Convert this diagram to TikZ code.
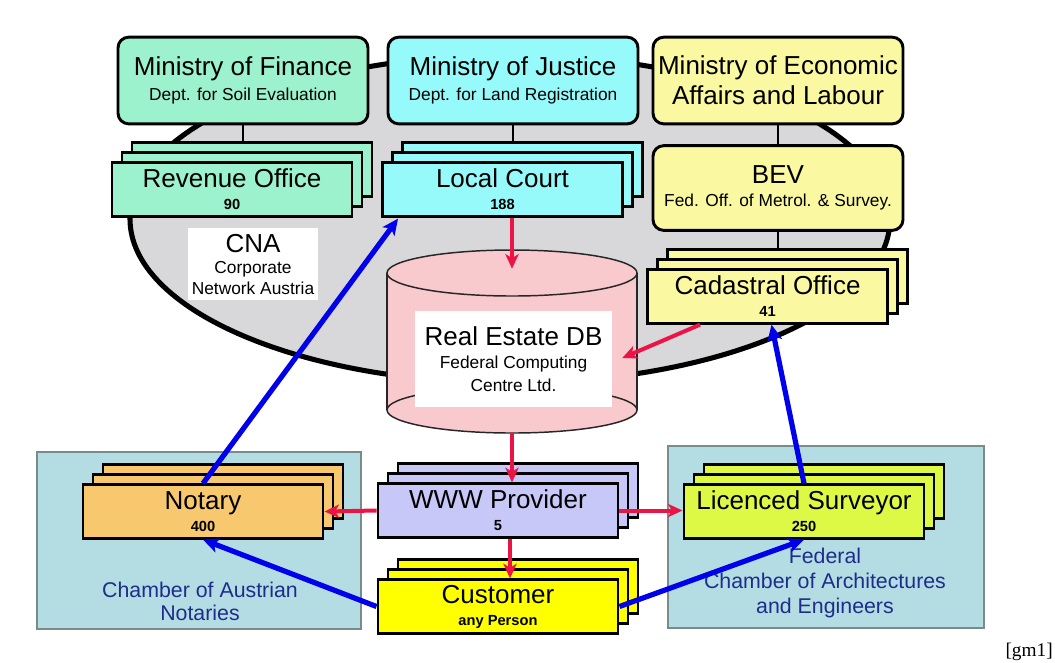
\documentclass[tikz,border=0pt]{standalone}
\usepackage{fontspec}
\setmainfont{Liberation Sans}
\newfontfamily\serifgm{Liberation Serif}
\usetikzlibrary{arrows.meta,calc}
\pgfdeclarelayer{bg}
\pgfdeclarelayer{lines}
\pgfsetlayers{bg,lines,main}
\definecolor{ellgray}{RGB}{216,216,218}
\definecolor{mint}{RGB}{155,242,205}
\definecolor{cyanbox}{RGB}{150,250,250}
\definecolor{paleyel}{RGB}{250,248,160}
\definecolor{orangebox}{RGB}{247,200,110}
\definecolor{lavender}{RGB}{200,200,248}
\definecolor{custyel}{RGB}{255,255,0}
\definecolor{limebox}{RGB}{222,248,70}
\definecolor{dbpink}{RGB}{248,202,206}
\definecolor{chamberfill}{RGB}{180,221,227}
\definecolor{chamberline}{RGB}{120,140,140}
\definecolor{chambertext}{RGB}{30,45,140}
\definecolor{arrred}{RGB}{236,20,70}
\definecolor{arrblue}{RGB}{0,0,235}
\tikzset{
  ministry/.style={draw=black, line width=2.2pt, rounded corners=8pt,
    minimum width=187.5pt, minimum height=65pt, align=center, inner sep=1pt,
    font=\fontsize{19.5}{18.75}\selectfont},
  backbox/.style={fill=#1, draw=black, line width=2.2pt, minimum width=180pt,
    minimum height=40pt, inner sep=0pt},
  stackbox/.style={backbox=#1, align=center, inner sep=1pt,
    font=\fontsize{19.5}{16.5}\selectfont},
  whitebox/.style={fill=white, draw=none, align=center, inner sep=0pt},
  chambertxt/.style={text=chambertext, align=center, inner sep=0pt,
    font=\fontsize{16}{18.75}\selectfont},
  conn/.style={draw=black, line width=2.2pt},
  redarrow/.style={draw=arrred, line width=3pt,
    -{Stealth[length=11pt,width=10pt,inset=3pt]}},
  bluearrow/.style={draw=arrblue, line width=3.9pt,
    -{Stealth[length=12pt,width=11pt,inset=3pt]}},
  dbline/.style={draw=black!85, line width=1.1pt}
}
\newcommand\numtxt{\fontsize{11}{16.5}\selectfont\bfseries}
\newcommand\subtxt{\fontsize{13}{18.75}\selectfont}
\newcommand\sizedtxt[2]{\fontsize{#1}{#2}\selectfont}
% stacked office: name, colour, x, y, text
\newcommand\stackednode[5]{%
  \node[backbox=#2] (#1-back2) at ({#3+20},{#4-20}) {};
  \node[backbox=#2] (#1-back1) at ({#3+10},{#4-10}) {};
  \node[stackbox=#2] (#1) at (#3,#4) {#5};}
\begin{document}
\begin{tikzpicture}[x=0.75pt,y=-0.75pt]
\useasboundingbox (0,0) rectangle (1055,662);

% ---- background: network ellipse and chambers
\begin{pgfonlayer}{bg}
\draw[fill=ellgray, line width=3.8pt] (510,219) ellipse [x radius=285pt, y radius=123pt];
\draw[fill=chamberfill, draw=chamberline, line width=0.9pt] (37,452) rectangle (361,629);
\draw[fill=chamberfill, draw=chamberline, line width=0.9pt] (668,446) rectangle (984,628);
\end{pgfonlayer}

% ---- ministries
\node[ministry, fill=mint] (mof) at (243,80.5)
  {Ministry of Finance\\ \subtxt Dept. for Soil Evaluation};
\node[ministry, fill=cyanbox] (moj) at (513,80.5)
  {Ministry of Justice\\ \subtxt Dept. for Land Registration};
\node[ministry, fill=paleyel, font=\fontsize{19.5}{22.5}\selectfont] (moe) at (778,80.5)
  {Ministry of Economic\\Affairs and Labour};
\node[ministry, fill=paleyel, minimum height=63.5pt, font=\fontsize{19.5}{17.25}\selectfont] (bev) at (778,188)
  {BEV\\ \sizedtxt{13}{17.25}Fed. Off. of Metrol. \& Survey.};

% ---- stacked offices
\stackednode{rev}{mint}{232}{189.5}{Revenue Office\\ \numtxt 90}
\stackednode{lc}{cyanbox}{502.5}{189.5}{Local Court\\ \numtxt 188}
\stackednode{cad}{paleyel}{767.5}{296.5}{Cadastral Office\\ \numtxt 41}
\stackednode{not}{orangebox}{203}{511.5}{Notary\\ \numtxt 400}
\stackednode{www}{lavender}{498}{510.5}{WWW Provider\\ \numtxt 5}
\stackednode{cust}{custyel}{498}{606.5}{Customer\\ \numtxt any Person}
\stackednode{sur}{limebox}{804}{511.5}{Licenced Surveyor\\ \numtxt 250}

% ---- CNA label
\node[whitebox, minimum width=97.5pt, minimum height=54pt,
  font=\fontsize{19.5}{15.75}\selectfont] (cna) at (253,264)
  {CNA\\ \sizedtxt{13}{15.75}Corporate\\ \sizedtxt{13}{15.75}Network Austria};

% ---- Real Estate DB cylinder
\node[draw=none, minimum width=187.5pt, minimum height=137.25pt, inner sep=0pt] (db) at (512,341.5) {};
\fill[dbpink] (387,273) -- (387,410) arc[start angle=180, end angle=360, x radius=93.75pt, y radius=17.25pt]
  -- (637,273) arc[start angle=0, end angle=180, x radius=93.75pt, y radius=17.25pt] -- cycle;
\draw[dbline] (512,410) ellipse [x radius=93.75pt, y radius=17.25pt];
\draw[dbline] (512,273) ellipse [x radius=93.75pt, y radius=17.25pt];
\draw[dbline] (387,273) -- (387,410);
\draw[dbline] (637,273) -- (637,410);
\node[whitebox, minimum width=147.75pt, minimum height=72pt,
  font=\fontsize{19.5}{17}\selectfont] (dbt) at (513.5,359)
  {Real Estate DB\\ \sizedtxt{13}{17}Federal Computing\\ \sizedtxt{13}{17}Centre Ltd.};

% ---- chamber labels
\node[chambertxt, font=\fontsize{16}{17.25}\selectfont] (notch) at (200,601) {Chamber of Austrian\\Notaries};
\node[chambertxt] (fedch) at (825,583) {Federal\\Chamber of Architectures\\and Engineers};
\node[anchor=east, inner sep=0pt, font=\serifgm\fontsize{14.5}{16}\selectfont] (gm) at (1053,652) {[gm1]};

% ---- black hierarchy lines
\begin{pgfonlayer}{lines}
\draw[conn] (mof.south) -- (mof.south |- rev-back2.north);
\draw[conn] (moj.south) -- (moj.south |- lc-back2.north);
\draw[conn] (moe.south) -- (bev.north);
\draw[conn] (bev.south) -- (bev.south |- cad-back2.north);
\end{pgfonlayer}

% ---- red data flow arrows
\draw[redarrow] (db.north |- lc.south) -- ($(db.north)+(0,19)$);
\draw[redarrow] ($(cad.south west)+(54,0)$) -- ($(db.east)+(-15,16.5)$);
\draw[redarrow] (db.south) -- (db.south |- www.north);
\draw[redarrow] (www.west) -- (not.east);
\draw[redarrow] (www.east) -- (www.east -| sur.west);
\draw[redarrow] ($(www.south)+(12,0)$) -- ($(cust.north)+(12,0)$);

% ---- blue arrows
\draw[bluearrow] (not.north) -- ($(lc.south west)+(17,1)$);
\draw[bluearrow] (cust.west) -- (not.south);
\draw[bluearrow] (cust.east) -- (sur.south);
\draw[bluearrow] (sur.north) -- ($(cad.south)+(4,0)$);
\end{tikzpicture}
\end{document}
